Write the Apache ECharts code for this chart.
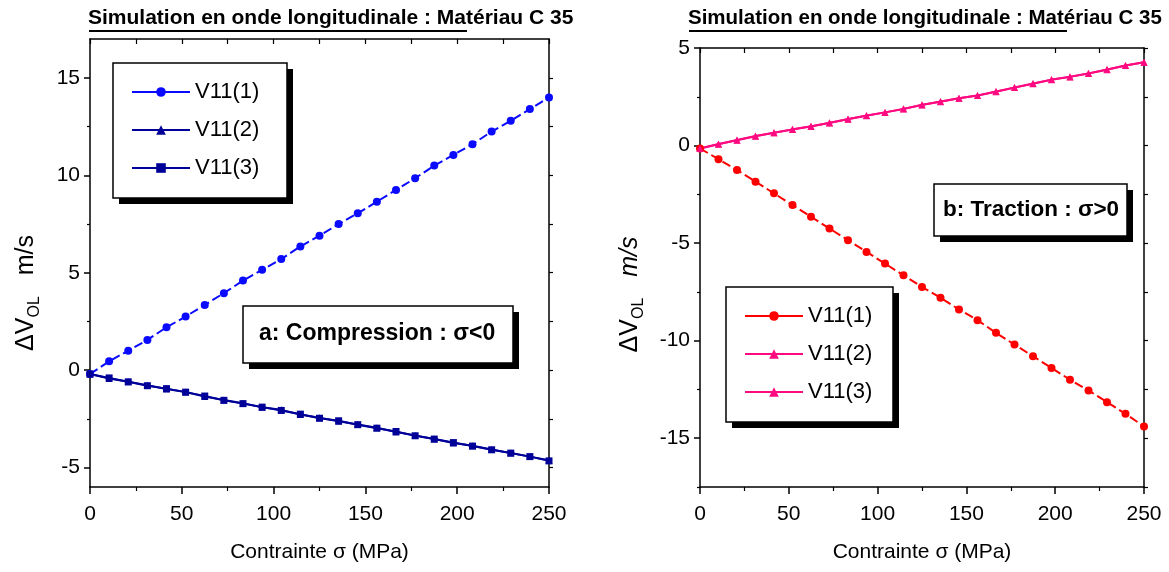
<!DOCTYPE html>
<html>
<head>
<meta charset="utf-8">
<script src="https://cdn.jsdelivr.net/npm/echarts@6/dist/echarts.min.js"></script>
<style>html,body{margin:0;padding:0;background:#fff}#c{width:1169px;height:572px}</style>
</head>
<body>
<div id="c"></div>
<script>
const sigma = [0, 10.42, 20.83, 31.25, 41.67, 52.08, 62.5, 72.92, 83.33, 93.75, 104.17, 114.58, 125, 135.42, 145.83, 156.25, 166.67, 177.08, 187.5, 197.92, 208.33, 218.75, 229.17, 239.58, 250];
// Compression (a)
const compV1 = [-0.2, 0.45, 1.0, 1.55, 2.2, 2.75, 3.35, 3.95, 4.6, 5.15, 5.7, 6.35, 6.9, 7.5, 8.05, 8.65, 9.25, 9.85, 10.5, 11.05, 11.6, 12.25, 12.8, 13.4, 14.0];
const compV2 = [-0.2, -0.43, -0.6, -0.78, -0.97, -1.12, -1.36, -1.53, -1.7, -1.91, -2.04, -2.28, -2.45, -2.62, -2.79, -2.96, -3.18, -3.35, -3.54, -3.74, -3.88, -4.07, -4.26, -4.44, -4.63];
const compV3 = [-0.2, -0.4, -0.6, -0.8, -0.95, -1.13, -1.33, -1.55, -1.72, -1.9, -2.07, -2.26, -2.47, -2.6, -2.8, -2.98, -3.15, -3.37, -3.54, -3.72, -3.9, -4.09, -4.26, -4.44, -4.66];
// Traction (b)
const tracV1 = [-0.15, -0.7, -1.25, -1.85, -2.45, -3.05, -3.65, -4.25, -4.85, -5.45, -6.05, -6.65, -7.25, -7.8, -8.4, -8.95, -9.6, -10.2, -10.8, -11.4, -12.0, -12.55, -13.15, -13.75, -14.4];
const tracV2 = [-0.15, 0.07, 0.28, 0.49, 0.66, 0.82, 0.99, 1.16, 1.36, 1.53, 1.7, 1.87, 2.09, 2.25, 2.42, 2.56, 2.76, 2.98, 3.18, 3.38, 3.52, 3.69, 3.89, 4.1, 4.27];
const tracV3 = [-0.15, 0.08, 0.27, 0.48, 0.66, 0.83, 0.98, 1.17, 1.35, 1.54, 1.7, 1.88, 2.08, 2.26, 2.42, 2.57, 2.77, 2.97, 3.17, 3.37, 3.53, 3.7, 3.9, 4.1, 4.27];

const seriesNames = ['V11(1)', 'V11(2)', 'V11(3)'];
const xTickLabels = [0, 50, 100, 150, 200, 250];
const yLabelsA = [-5, 0, 5, 10, 15];
const yMinorA = [-2.5, 2.5, 7.5, 12.5];
const yLabelsB = [-15, -10, -5, 0, 5];
const yMinorB = [-17.5, -12.5, -7.5, -2.5, 2.5];
const mainTitle = 'Simulation en onde longitudinale : Matériau C 35';
const xName = 'Contrainte σ (MPa)';

const FONT = 'Liberation Sans';
const pairs = (xs, ys) => xs.map((x, i) => [x, ys[i]]);

function xAxes(grid) {
  return [
    {
      gridIndex: grid, type: 'value', position: 'bottom', min: 0, max: 250, interval: 50,
      axisLine: { onZero: false, lineStyle: { color: '#000', width: 1.5 } },
      axisTick: { inside: false, length: 7, lineStyle: { color: '#000', width: 1.5 } },
      minorTick: { show: true, splitNumber: 2, length: 4, lineStyle: { color: '#000', width: 1.2 } },
      axisLabel: { color: '#000', fontSize: 21, fontFamily: FONT, margin: 17, customValues: xTickLabels },
      splitLine: { show: false },
      name: xName, nameLocation: 'middle', nameGap: 55,
      nameTextStyle: { color: '#000', fontSize: 21, fontFamily: FONT }
    },
    {
      gridIndex: grid, type: 'value', position: 'top', min: 0, max: 250, interval: 25,
      axisLine: { onZero: false, lineStyle: { color: '#000', width: 1.5 } },
      axisTick: { inside: true, length: 5, lineStyle: { color: '#000', width: 1.2 } },
      axisLabel: { show: false }, splitLine: { show: false }
    }
  ];
}

function yAxes(grid, min, max, labels, minor, italicUnit, gap, shift) {
  const all = labels.concat(minor).sort((a, b) => a - b);
  return [
    {
      gridIndex: grid, type: 'value', position: 'left', min: min, max: max,
      axisLine: { onZero: false, lineStyle: { color: '#000', width: 1.5 } },
      axisTick: { inside: false, length: 6, customValues: labels, lineStyle: { color: '#000', width: 1.5 } },
      axisLabel: { color: '#000', fontSize: 21, fontFamily: FONT, margin: 10, customValues: labels },
      splitLine: { show: false },
      name: '{d|ΔV}{s|OL}{m|   m/s}', nameLocation: 'middle', nameGap: gap,
      nameTextStyle: {
        color: '#000', fontFamily: FONT, padding: [0, shift, 0, 0],
        rich: {
          d: { fontSize: 25, fontFamily: FONT, color: '#000', lineHeight: 26, verticalAlign: 'top' },
          s: { fontSize: 16, fontFamily: FONT, color: '#000', lineHeight: 16, verticalAlign: 'top', padding: [13, 0, 0, 0] },
          m: { fontSize: 25, fontFamily: FONT, color: '#000', lineHeight: 26, verticalAlign: 'top', fontStyle: italicUnit ? 'italic' : 'normal' }
        }
      }
    },
    {
      gridIndex: grid, type: 'value', position: 'left', min: min, max: max,
      axisLine: { show: false, onZero: false },
      axisTick: { inside: false, length: 3, customValues: minor, lineStyle: { color: '#000', width: 1.2 } },
      axisLabel: { show: false }, splitLine: { show: false }
    },
    {
      gridIndex: grid, type: 'value', position: 'right', min: min, max: max,
      axisLine: { onZero: false, lineStyle: { color: '#000', width: 1.5 } },
      axisTick: { inside: false, length: 4, customValues: all, lineStyle: { color: '#000', width: 1.2 } },
      axisLabel: { show: false }, splitLine: { show: false }
    }
  ];
}

function lineSeries(name, x, y, xi, yi, color, symbol, size, dashed) {
  return {
    name: name, type: 'line', xAxisIndex: xi, yAxisIndex: yi,
    data: pairs(x, y), symbol: symbol, symbolSize: size, showSymbol: true,
    lineStyle: { color: color, width: 2, type: dashed ? [9, 4] : 'solid' },
    itemStyle: { color: color, borderWidth: 0 },
    animation: false, z: 3
  };
}

function legendBox(prefix, left, top) {
  return {
    show: true, orient: 'vertical', left: left, top: top, z: 60,
    data: seriesNames.map(n => prefix + n),
    formatter: name => name.slice(prefix.length),
    selectedMode: false,
    itemWidth: 58, itemHeight: 12, itemGap: 16,
    padding: [18, 24, 18, 18],
    lineStyle: { type: 'solid' },
    textStyle: { color: '#000', fontSize: 22, fontFamily: FONT }
  };
}

function boxTitle(text, left, top, size, pad) {
  return {
    text: text, left: left, top: top, padding: pad, z: 60,
    textStyle: { color: '#000', fontSize: size, fontWeight: 'bold', fontFamily: FONT }
  };
}

// framed boxes with a hard drop shadow: [x, y, w, h]
const boxes = [[113, 63, 174, 135], [726, 287, 167, 135], [243, 306, 270, 57], [934, 184, 193, 52]];
const boxGraphics = [];
boxes.forEach(b => {
  boxGraphics.push({ type: 'rect', z: 50, shape: { x: b[0] + 6, y: b[1] + 6, width: b[2], height: b[3] }, style: { fill: '#000' } });
  boxGraphics.push({ type: 'rect', z: 51, shape: { x: b[0], y: b[1], width: b[2], height: b[3] }, style: { fill: '#fff', stroke: '#000', lineWidth: 1.5 } });
});

const chart = echarts.init(document.getElementById('c'), null, { renderer: 'canvas' });
chart.setOption({
  backgroundColor: '#fff',
  animation: false,
  title: [
    { text: mainTitle, left: 88, top: 8, padding: 0, textStyle: { color: '#000', fontSize: 21, fontWeight: 'bold', fontFamily: FONT } },
    { text: mainTitle, left: 688, top: 8, padding: 0, textStyle: { color: '#000', fontSize: 20.5, fontWeight: 'bold', fontFamily: FONT } },
    boxTitle('a: Compression : σ<0', 243, 306, 23, [16, 16, 16, 16]),
    boxTitle('b: Traction : σ>0', 934, 184, 22.5, [14, 9, 14, 9])
  ],
  legend: [
    legendBox('a:', 113, 63),
    legendBox('b:', 726, 287)
  ],
  grid: [
    { left: 90, right: 620, top: 39, bottom: 85 },
    { left: 700, right: 25, top: 48, bottom: 85 }
  ],
  xAxis: xAxes(0).concat(xAxes(1)),
  yAxis: yAxes(0, -6, 17, yLabelsA, yMinorA, false, 50, 60).concat(yAxes(1, -17.5, 5, yLabelsB, yMinorB, true, 56, 54)),
  series: [
    lineSeries('a:V11(1)', sigma, compV1, 0, 0, '#0a0aff', 'circle', 8, true),
    lineSeries('a:V11(3)', sigma, compV3, 0, 0, '#000099', 'rect', 7, false),
    lineSeries('a:V11(2)', sigma, compV2, 0, 0, '#000099', 'triangle', 7, false),
    lineSeries('b:V11(1)', sigma, tracV1, 2, 3, '#ff0000', 'circle', 8, true),
    lineSeries('b:V11(3)', sigma, tracV3, 2, 3, '#ff0a80', 'triangle', 7, false),
    lineSeries('b:V11(2)', sigma, tracV2, 2, 3, '#ff0a80', 'triangle', 7, false)
  ],
  graphic: [
    { type: 'line', shape: { x1: 89, y1: 31, x2: 467, y2: 31 }, style: { stroke: '#000', lineWidth: 2 } },
    { type: 'line', shape: { x1: 689, y1: 31, x2: 1067, y2: 31 }, style: { stroke: '#000', lineWidth: 2 } }
  ].concat(boxGraphics)
});
</script>
</body>
</html>
